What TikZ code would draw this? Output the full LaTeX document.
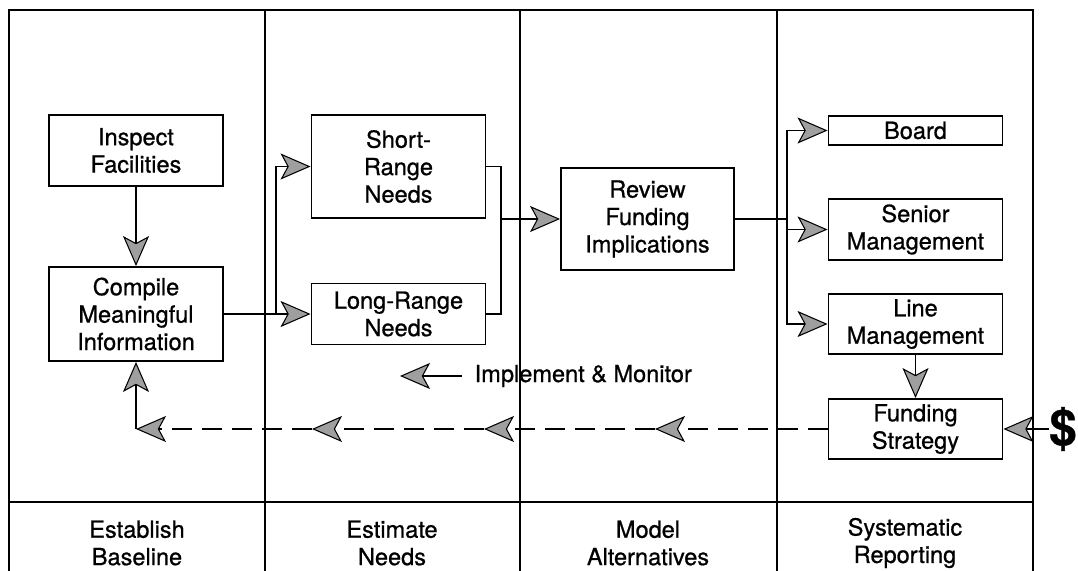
\documentclass[tikz,border=0pt]{standalone}
\usepackage{fontspec}
\setmainfont{TeX Gyre Heros}[FakeBold=0.8]
\usetikzlibrary{arrows.meta}

\tikzset{
  box/.style={draw, line width=1.1pt, align=center, inner sep=0pt, minimum width=3.48cm},
  lbl/.style={align=center, inner sep=0pt},
  fb/.style={dash pattern=on 0.4cm off 0.2cm},
  >={Stealth[length=0.6cm,width=0.52cm,inset=0.14cm,fill=gray!75,line width=0.6pt]},
}

\begin{document}
\begin{tikzpicture}[x=0.02cm,y=-0.02cm,line width=0.8pt,font=\fontsize{13.4}{15.6}\selectfont]
	\useasboundingbox (0,0) rectangle (1078,571);
	\clip (0,0) rectangle (1078,571);
	% frame and columns
	\draw (9,571) -- (9,10) -- (1033,10) -- (1033,571);
	\draw (9,502) -- (1033,502);
	\foreach \x in {265,520,777} \draw (\x,10) -- (\x,571);
	% column titles
	\node[lbl] (colA) at (137,543) {Establish\\Baseline};
	\node[lbl] (colB) at (392,543) {Estimate\\Needs};
	\node[lbl] (colC) at (648,543) {Model\\Alternatives};
	\node[lbl] (colD) at (905,543) {Systematic\\Reporting};
	% boxes
	\node[box, minimum height=1.42cm] (inspect) at (136,150.5) {Inspect\\Facilities};
	\node[box, minimum height=1.88cm] (compile) at (136,314) {Compile\\Meaningful\\Information};
	\node[box, minimum height=2.06cm] (short) at (398.5,166.5) {Short-\\Range\\Needs};
	\node[box, minimum height=1.22cm] (long) at (398.5,314) {Long-Range\\Needs};
	\node[box, minimum height=2.04cm, minimum width=3.46cm] (review) at (647.5,219) {Review\\Funding\\Implications};
	\node[box, minimum height=0.58cm] (board) at (915.5,130.5) {Board};
	\node[box, minimum height=1.22cm] (senior) at (915.5,229.5) {Senior\\Management};
	\node[box, minimum height=1.2cm] (line) at (915.5,324) {Line\\Management};
	\node[box, minimum height=1.2cm] (funding) at (915.5,429) {Funding\\Strategy};
	\node[inner sep=0pt, font=\fontsize{28}{28}\selectfont\bfseries] (dollar) at (1063,429) {\$};
	% connectors
	\draw[->] (inspect) -- (compile);
	\coordinate (split) at (276,314);
	\draw[->] (compile.east) -- (long.west);
	\draw[->] (split) |- (short.west);
	\coordinate (join) at (501,219);
	\draw (short.east) -| (join) |- (long.east);
	\draw[->] (join) -- (review.west);
	\coordinate (fork) at (787,219);
	\draw (review.east) -- (fork);
	\draw[->] (fork) |- (board.west);
	\draw[->] (fork) |- (senior.west);
	\draw[->] (fork) |- (line.west);
	\draw[->] (line) -- (funding);
	\draw[->] (dollar.west) -- (funding.east);
	% feedback loop
	\coordinate (fb1) at (655,429);
	\coordinate (fb2) at (484,429);
	\coordinate (fb3) at (312,429);
	\coordinate (corner) at (136,429);
	\draw[fb,->] (funding.west) -- (fb1);
	\draw[fb,->] (fb1) -- (fb2);
	\draw[fb,->] (fb2) -- (fb3);
	\draw[fb,->] (fb3) -- (corner);
	\draw[->] (corner) -- (compile.south);
	% legend
	\node[right, inner ysep=0pt, inner xsep=0.24cm] (impl) at (462,376) {Implement \& Monitor};
	\coordinate (legtip) at (400,376);
	\draw[->] (impl.west) -- (legtip);
\end{tikzpicture}
\end{document}
